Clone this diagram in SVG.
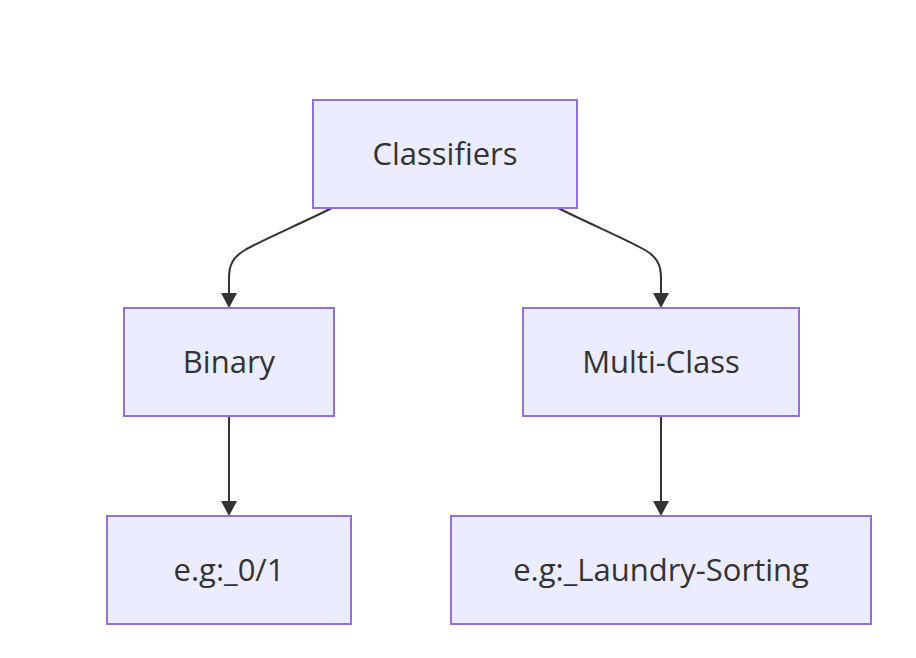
<svg xmlns="http://www.w3.org/2000/svg" width="916" height="658" viewBox="0 0 916 658">
<style>
.node rect{fill:#ECECFF;stroke:#9370DB;stroke-width:2}
.node text{font-family:"Open Sans","DejaVu Sans",sans-serif;font-size:31px;fill:#333;text-anchor:middle}
.edge{fill:none;stroke:#333;stroke-width:2}
</style>
<defs>
<marker id="arrow" viewBox="0 0 15 16" refX="7" refY="8" markerWidth="15" markerHeight="16" markerUnits="userSpaceOnUse" orient="auto">
<path d="M0,0 L15,8 L0,16 z" fill="#333"/>
</marker>
</defs>
<rect width="916" height="658" fill="#fff"/>
<g id="connectors">
<path class="edge" d="M332,208 C300,224 262,240 245,250 C233,257 229,265 229,278 L229,300" marker-end="url(#arrow)"/>
<path class="edge" d="M558,208 C590,224 628,240 645,250 C657,257 661,265 661,278 L661,300" marker-end="url(#arrow)"/>
<path class="edge" d="M229,416 L229,508" marker-end="url(#arrow)"/>
<path class="edge" d="M661,416 L661,508" marker-end="url(#arrow)"/>
</g>
<g id="classifiers" class="node">
<rect x="313" y="100" width="264" height="108"/>
<text x="445" y="165">Classifiers</text>
</g>
<g id="binary" class="node">
<rect x="124" y="308" width="210" height="108"/>
<text x="229" y="373">Binary</text>
</g>
<g id="multiclass" class="node">
<rect x="523" y="308" width="276" height="108"/>
<text x="661" y="373">Multi-Class</text>
</g>
<g id="binary-example" class="node">
<rect x="107" y="516" width="244" height="108"/>
<text x="229" y="581">e.g:_0/1</text>
</g>
<g id="multiclass-example" class="node">
<rect x="451" y="516" width="420" height="108"/>
<text x="661" y="581">e.g:_Laundry-Sorting</text>
</g>
</svg>
